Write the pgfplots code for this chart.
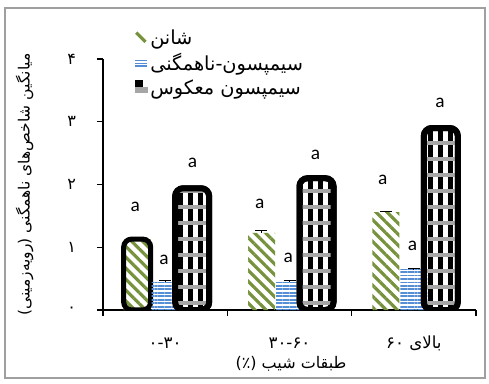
\documentclass[border=0pt]{standalone}
\usepackage{fontspec}
\usepackage{pgfplots}
\pgfplotsset{compat=1.18}
\usetikzlibrary{patterns.meta}
\TeXXeTstate=1
\setmainfont{Carlito}
\newfontfamily\fa[Script=Arabic]{DejaVu Sans}
\definecolor{shgreen}{RGB}{118,146,60}
\definecolor{siblue}{RGB}{85,142,213}
\tikzset{letter/.style={font=\fontsize{14.5}{16}\selectfont, inner sep=1pt}}

\begin{document}
\begin{tikzpicture}
% page size and outer frame
\useasboundingbox (-77.25pt,-54.75pt) rectangle (289.5pt,232.5pt);
\draw[gray!75, line width=1.2pt] (-73.5pt,-51pt) rectangle (286.5pt,226.5pt);
\begin{axis}[
  at={(0pt,0pt)}, anchor=south west,
  width=279.75pt, height=188.25pt, scale only axis,
  ybar, ymin=0, ymax=4, xmin=-0.5, xmax=2.5,
  axis x line=bottom, axis y line=left,
  axis line style={-, line width=1.1pt, black},
  ytick={0,1,2,3,4},
  yticklabels={۰,۱,۲,۳,۴},
  yticklabel style={font=\fa\fontsize{12}{14}\selectfont, anchor=center, xshift=-19pt},
  ytick style={line width=1.1pt, black},
  tick align=outside, major tick length=4.5pt,
  xtick={0,1,2},
  xticklabels={
    {\beginR ۰-۳۰\endR},
    {\beginR ۳۰-۶۰\endR},
    {\beginR بالای ۶۰\endR}},
  xticklabel style={font=\fa\fontsize{12.5}{14}\selectfont, anchor=center, yshift=-20.5pt},
  x tick style={draw=none},
  extra x ticks={-0.5,0.5,1.5,2.5},
  extra x tick labels={},
  extra x tick style={x tick style={draw=black, line width=1.1pt}, major tick length=4.5pt},
  xlabel={\beginR طبقات شیب (٪)\endR},
  xlabel style={font=\fa\fontsize{12}{14}\selectfont, at={(axis description cs:0.504,-0.215)}, anchor=center},
  ylabel={\beginR میانگین شاخص‌های ناهمگنی (رویه‌زمینی)\endR},
  ylabel style={font=\fa\fontsize{11.6}{13}\selectfont, at={(axis description cs:-0.21,0.5)}, anchor=center},
  legend style={at={(rel axis cs:0.072,1.137)}, anchor=north west, draw=none, fill=none,
    font=\fa\fontsize{14.5}{16}\selectfont, row sep=1pt},
  legend cell align=left,
  clip=true,
]
% legend entries
\addlegendimage{legend image code/.code={\draw[shgreen,line width=2.4pt] (1pt,4.5pt) -- (8pt,-2.5pt);}}
\addlegendentry{شانن}
\addlegendimage{legend image code/.code={\foreach \yy in {-2.2,0,2.2}{\draw[siblue,line width=1.1pt] (0pt,\yy pt) -- (9pt,\yy pt);}}}
\addlegendentry{سیمپسون-ناهمگنی}
\addlegendimage{legend image code/.code={\fill[black] (0pt,0.5pt) rectangle (5.5pt,6pt); \fill[gray!70] (0pt,-3pt) rectangle (9pt,0.5pt);}}
\addlegendentry{\beginR سیمپسون معکوس\endR}

% Shannon
\addplot[forget plot, bar width=20.25pt, bar shift=-21pt, draw=none,
  pattern={Lines[angle=-45,distance=5.8pt,line width=2.4pt]}, pattern color=shgreen,
  error bars/.cd, y dir=plus, y explicit,
  error bar style={black, line width=0.8pt},
  error mark options={rotate=90, black, line width=0.8pt, mark size=4.5pt}]
  coordinates {(0,1.13) +- (0,0.01) (1,1.23) +- (0,0.04) (2,1.56) +- (0,0.01)};
% outline of the first Shannon bar
\addplot[forget plot, bar width=20.25pt, bar shift=-21pt, draw=black, fill=none,
  line width=3.8pt, rounded corners=6pt]
  coordinates {(0,1.13)};
% Simpson heterogeneity
\addplot[forget plot, bar width=20.25pt, bar shift=0pt, draw=none, fill=white,
  pattern={Lines[angle=0,distance=2.6pt,line width=1.4pt]}, pattern color=siblue,
  error bars/.cd, y dir=plus, y explicit,
  error bar style={black, line width=0.8pt},
  error mark options={rotate=90, black, line width=0.8pt, mark size=4.5pt}]
  coordinates {(0,0.45) +- (0,0.02) (1,0.46) +- (0,0.01) (2,0.65) +- (0,0.01)};
% inverse Simpson
\addplot[forget plot, bar width=25.5pt, bar shift=20.25pt, draw=black, line width=4.5pt,
  rounded corners=6pt, fill=white,
  pattern={Lines[angle=90,distance=7.5pt,line width=3.75pt]}, pattern color=black,
  postaction={pattern={Lines[angle=0,distance=12pt,line width=3pt]}, pattern color=gray!70}]
  coordinates {(0,1.94) (1,2.10) (2,2.90)};

% significance letters
\node[letter] at (axis cs:-0.24,1.64) {a};
\node[letter, fill=white] at (axis cs:-0.01,0.80) {a};
\node[letter] at (axis cs:0.22,2.34) {a};
\node[letter] at (axis cs:0.76,1.69) {a};
\node[letter] at (axis cs:0.99,0.83) {a};
\node[letter] at (axis cs:1.21,2.48) {a};
\node[letter] at (axis cs:1.75,2.07) {a};
\node[letter] at (axis cs:1.99,1.02) {a};
\node[letter] at (axis cs:2.21,3.30) {a};
\end{axis}
\end{tikzpicture}
\end{document}
